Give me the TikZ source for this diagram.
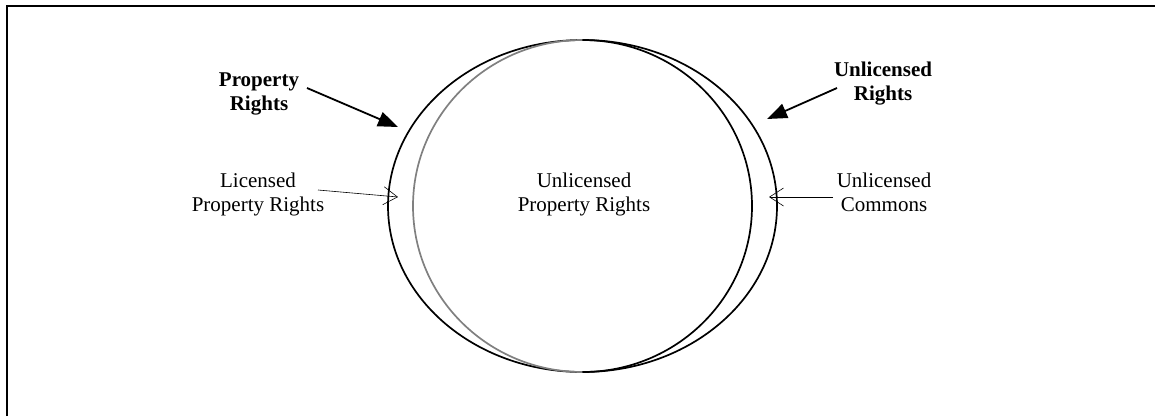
\documentclass[tikz,border=0pt]{standalone}
\usepackage{fontspec}
\setmainfont{Liberation Serif}
\usetikzlibrary{arrows.meta}
\begin{document}
\begin{tikzpicture}[x=1pt,y=-1pt,
  label/.style={align=center,inner sep=0pt,font=\fontsize{21}{24}\selectfont},
  boldlabel/.style={label,font=\fontsize{21}{24}\selectfont\bfseries},
  bigarrow/.style={line width=1.8pt,-{Triangle[length=20pt,width=15pt]}},
  thinarrow/.style={line width=0.6pt,-{Straight Barb[length=14pt,width=18pt,line width=0.6pt]}},
  ring/.style={line width=1.7pt}]
  \useasboundingbox (0,0) rectangle (1155,416);
  % frame (top and left edges)
  \draw[line width=2pt] (7,416) -- (7,5.5) -- (1155,5.5);
  % outer ellipse
  \draw[ring] (582.5,206) ellipse [x radius=194.5, y radius=166];
  % inner ellipse: left half grey, right half black (y axis points down)
  \draw[ring,gray] (582.5,40) arc[start angle=270,end angle=90,x radius=169.5,y radius=166];
  \draw[ring] (582.5,40) arc[start angle=270,end angle=450,x radius=169.5,y radius=166];
  % labels
  \node[boldlabel] (pr) at (259,94) {Property\\Rights};
  \node[boldlabel] (ur) at (883,84) {Unlicensed\\Rights};
  \node[label] (lpr) at (258,194) {Licensed\\Property Rights};
  \node[label] (upr) at (584,194) {Unlicensed\\Property Rights};
  \node[label] (uc) at (884,192) {Unlicensed\\Commons};
  % arrow ends
  \coordinate (prs) at (307,88);
  \coordinate (prt) at (398,127);
  \coordinate (urs) at (837,88);
  \coordinate (urt) at (767,119);
  \coordinate (lprs) at (318,190);
  \coordinate (lprt) at (398,197);
  \coordinate (ucs) at (833,197);
  \coordinate (uct) at (769,197);
  \draw[bigarrow] (prs) -- (prt);
  \draw[bigarrow] (urs) -- (urt);
  \draw[thinarrow] (lprs) -- (lprt);
  \draw[thinarrow] (ucs) -- (uct);
\end{tikzpicture}
\end{document}
